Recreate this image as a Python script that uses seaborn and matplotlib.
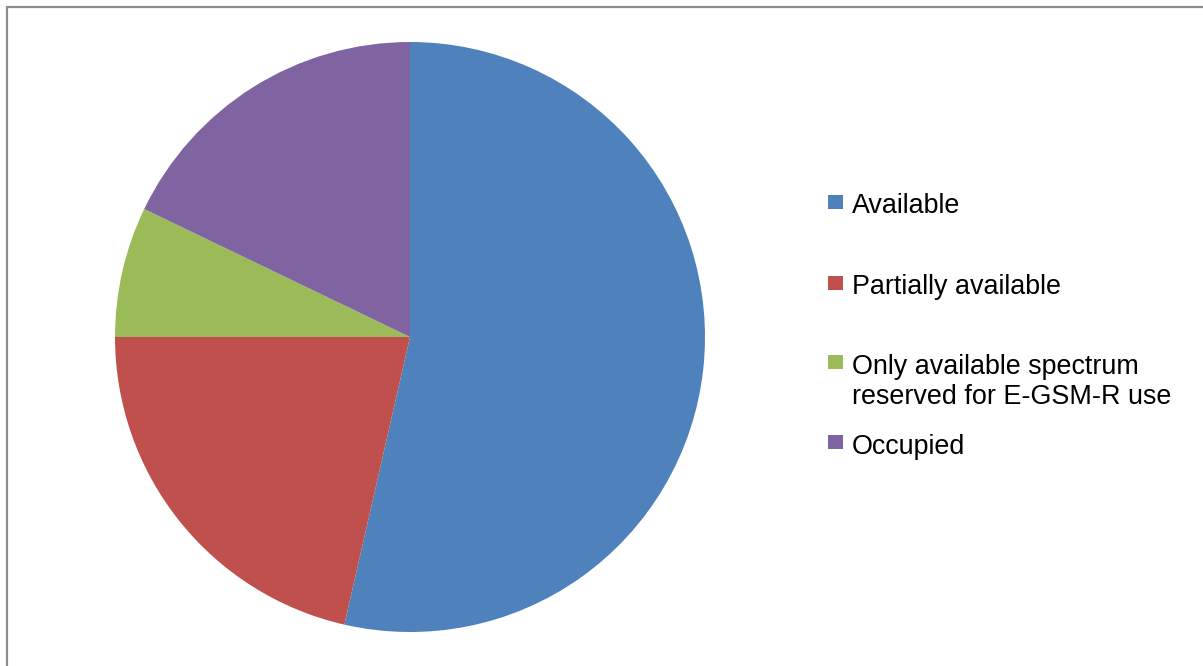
import matplotlib
matplotlib.use("Agg")
import matplotlib.pyplot as plt
from matplotlib.patches import Rectangle
from matplotlib.lines import Line2D
import seaborn as sns

categories = ["Available", "Partially available",
              "Only available spectrum\nreserved for E-GSM-R use", "Occupied"]
values = [15, 6, 2, 5]
colors = ["#4F81BD", "#C0504D", "#9BBB59", "#8064A2"]

sns.set_theme(style="white")
plt.rcParams["font.family"] = ["Liberation Sans", "DejaVu Sans"]

W, H = 1203, 666
fig = plt.figure(figsize=(W / 100, H / 100), dpi=100)
fig.patch.set_facecolor("white")

# outer frame (only top & left visible)
fx = 6.5 / W
fy = 1 - 6.5 / H
fig.add_artist(Line2D([fx, 1.0], [fy, fy], transform=fig.transFigure, color="#8c8c8c", lw=1.6))
fig.add_artist(Line2D([fx, fx], [0.0, fy], transform=fig.transFigure, color="#8c8c8c", lw=1.6))

cx, cy, r = 410, 337, 295
ax = fig.add_axes([(cx - r) / W, (H - cy - r) / H, 2 * r / W, 2 * r / H])
palette = sns.color_palette(colors)
ax.pie(values, colors=palette, startangle=90, counterclock=False, radius=1.0,
       wedgeprops=dict(linewidth=0))
ax.set_xlim(-1, 1)
ax.set_ylim(-1, 1)
ax.set_aspect("equal")
ax.axis("off")

# legend (manually placed, matching reference layout)
baselines = [213, 294, 374, 454]
square_centers = [201.5, 282.5, 362, 441.5]
line_gap = 30
for lab, col, base, sq in zip(categories, palette, baselines, square_centers):
    fig.add_artist(Rectangle((828 / W, 1 - (sq + 7) / H), 15 / W, 14 / H,
                             transform=fig.transFigure, facecolor=col, edgecolor="none"))
    for i, line in enumerate(lab.split("\n")):
        fig.text(852 / W, 1 - (base + i * line_gap) / H, line, fontsize=19.4,
                 color="black", ha="left", va="baseline")

fig.savefig("out.png", dpi=100, facecolor="white")
